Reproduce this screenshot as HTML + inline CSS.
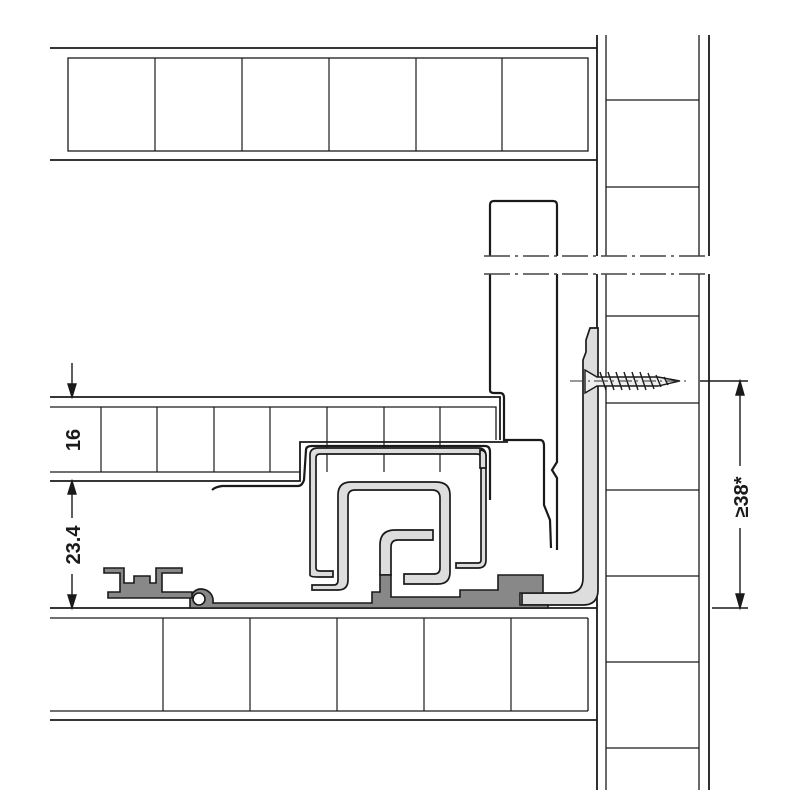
<!DOCTYPE html>
<html><head><meta charset="utf-8"><style>html,body{margin:0;padding:0;background:#fff}svg{display:block}</style></head>
<body>
<svg width="800" height="800" viewBox="0 0 800 800" xmlns="http://www.w3.org/2000/svg" font-family="Liberation Sans, sans-serif">
<g stroke="#1a1a1a" fill="none" stroke-width="1.8">
<line x1="50" y1="48" x2="597" y2="48"/><line x1="50" y1="160" x2="597" y2="160"/>
<rect x="68" y="58" width="520" height="93" stroke-width="1.3"/>
<g stroke-width="1.2"><line x1="155" y1="58" x2="155" y2="151"/><line x1="242" y1="58" x2="242" y2="151"/><line x1="329" y1="58" x2="329" y2="151"/><line x1="416" y1="58" x2="416" y2="151"/><line x1="502" y1="58" x2="502" y2="151"/></g>
<line x1="597" y1="35" x2="597" y2="256"/><line x1="709" y1="35" x2="709" y2="256"/>
<line x1="606" y1="35" x2="606" y2="256" stroke-width="1.3"/><line x1="699" y1="35" x2="699" y2="256" stroke-width="1.3"/>
<line x1="597" y1="274" x2="597" y2="790"/><line x1="709" y1="274" x2="709" y2="790"/>
<line x1="606" y1="274" x2="606" y2="790" stroke-width="1.3"/><line x1="699" y1="274" x2="699" y2="790" stroke-width="1.3"/>
<g stroke-width="1.2"><line x1="606" y1="100" x2="699" y2="100"/><line x1="606" y1="187" x2="699" y2="187"/><line x1="606" y1="316" x2="699" y2="316"/><line x1="606" y1="403" x2="699" y2="403"/><line x1="606" y1="490" x2="699" y2="490"/><line x1="606" y1="576" x2="699" y2="576"/><line x1="606" y1="662" x2="699" y2="662"/><line x1="606" y1="748" x2="699" y2="748"/></g>
<line x1="50" y1="608" x2="597" y2="608"/><line x1="50" y1="720" x2="597" y2="720"/>
<line x1="50" y1="618" x2="588" y2="618" stroke-width="1.3"/><line x1="50" y1="711" x2="588" y2="711" stroke-width="1.3"/><line x1="588" y1="618" x2="588" y2="711" stroke-width="1.3"/>
<g stroke-width="1.2"><line x1="163" y1="618" x2="163" y2="711"/><line x1="250" y1="618" x2="250" y2="711"/><line x1="337" y1="618" x2="337" y2="711"/><line x1="424" y1="618" x2="424" y2="711"/><line x1="511" y1="618" x2="511" y2="711"/></g>
<path d="M50 397 H500 V440"/><path d="M50 481 H300 V442 H508"/>
<path d="M50 407 H496 V440" stroke-width="1.3"/><line x1="50" y1="472" x2="300" y2="472" stroke-width="1.3"/>
<g stroke-width="1.2"><line x1="101" y1="407" x2="101" y2="472"/><line x1="157" y1="407" x2="157" y2="472"/><line x1="214" y1="407" x2="214" y2="472"/><line x1="270" y1="407" x2="270" y2="472"/><line x1="327" y1="407" x2="327" y2="472"/><line x1="384" y1="407" x2="384" y2="472"/><line x1="440" y1="407" x2="440" y2="472"/></g>
<path d="M490 256 V205 Q490 201 494 201 H553 Q557 201 557 205 V256" stroke-width="2.2"/>
<path d="M490 274 V390 Q490 393 494 393 H500 Q504 393 504 398 V440 H540 Q544 440 544 446 V505 L550 520 L551 548" stroke-width="2.2"/>
<path d="M557 274 V462 L552 470 L557 478 V550" stroke-width="2.2"/>
<path d="M212 490 Q215 487 222 486 H298 Q302 486 304 480 L306 450 Q306 446 312 446 H485 Q490 446 490 452 V500" stroke-width="2.2"/>
</g>
<g stroke="#444" stroke-width="1.6" stroke-dasharray="26,5,3,5">
<line x1="484" y1="256" x2="710" y2="256"/><line x1="484" y1="274" x2="710" y2="274"/>
</g>
<g fill="#ddd" stroke="#1a1a1a" stroke-width="1.7">
<path d="M310 575 V455 Q310 448 318 448 H478 Q486 448 486 456 V560 Q486 568 478 568 H456 V563 H478 Q481 563 481 560 V458 Q481 454 477 454 H320 Q316 454 316 458 V568 Q316 571 320 571 H333 V577 H318 Q310 577 310 575 Z"/>
<path d="M312 590 V585 H334 Q338 585 338 580 V495 Q338 482 351 482 H436 Q450 482 450 495 V572 Q450 584 438 584 H404 V574 H434 Q440 574 440 568 V498 Q440 490 432 490 H355 Q348 490 348 497 V580 Q348 590 338 590 Z"/>
<path d="M380 575 V545 Q380 530 395 530 H433 V540 H398 Q391 540 391 547 V575 Z"/>
<path d="M522 593 H568 Q583 593 583 578 V360 L586 352 V340 L590 328 H598 V590 Q598 605 583 605 H522 Z"/>
<path d="M480 468 V450 Q486 450 486 456 V468 Z"/>
</g>
<g fill="#888" stroke="#1a1a1a" stroke-width="1.6">
<path d="M190 606 V598 Q195 586 206 590 Q214 594 213 603 H372 V592 H380 V575 H391 V597 H460 V590 H498 V575 H543 V593 H520 V605 H548 V608 H190 Z"/>
<path d="M104 573 V568 H124 V583 H134 V576 H150 V583 H156 V568 H182 V573 H162 V592 H192 V598 H108 V592 H120 V573 Z"/>
</g>
<circle cx="199" cy="599" r="6" fill="#fff" stroke="#1a1a1a" stroke-width="1.6"/>
<g stroke="#1a1a1a" stroke-width="1.4" fill="#fff">
<path d="M585 370 L597 377 H658 L680 381 L658 386 H597 L585 393 Z" fill="#eee"/>
<g fill="none"><path d="M600 372 L606 390 M608 372 L614 390 M616 372 L622 390 M624 372 L630 390 M632 372 L638 390 M640 372 L646 390 M648 373 L654 389 M656 375 L661 387 M664 377 L668 385"/></g>
</g>
<g stroke="#333" stroke-width="1" stroke-dasharray="14,4,2,4"><line x1="570" y1="381" x2="690" y2="381"/></g>
<g stroke="#1a1a1a" stroke-width="1.4" fill="#1a1a1a">
<line x1="72" y1="363" x2="72" y2="390"/><path d="M68 384 L72 397 L76 384 Z"/>
<line x1="72" y1="488" x2="72" y2="518"/><path d="M68 494 L72 481 L76 494 Z"/>
<line x1="72" y1="574" x2="72" y2="600"/><path d="M68 595 L72 608 L76 595 Z"/>
<line x1="700" y1="381" x2="748" y2="381"/><line x1="712" y1="608" x2="748" y2="608"/>
<line x1="740" y1="388" x2="740" y2="466"/><line x1="740" y1="528" x2="740" y2="601"/>
<path d="M736 395 L740 381 L744 395 Z"/><path d="M736 594 L740 608 L744 594 Z"/>
</g>
<g font-size="20" font-weight="bold" fill="#1a1a1a" text-anchor="middle">
<text transform="translate(80,440) rotate(-90)">16</text>
<text transform="translate(80,545) rotate(-90)">23.4</text>
<text transform="translate(748,497) rotate(-90)">≥38*</text>
</g>
</svg>
</body></html>
